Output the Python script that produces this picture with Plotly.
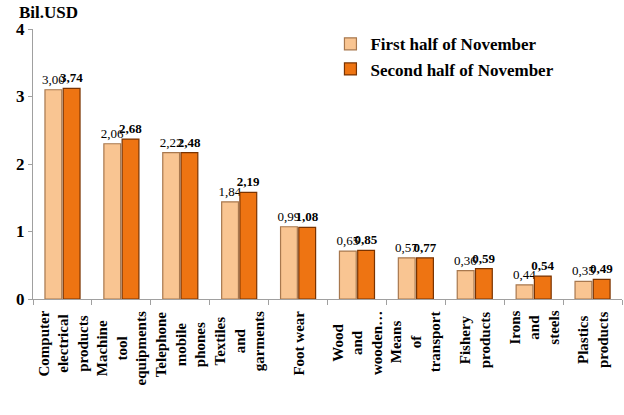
import plotly.graph_objects as go

categories = [
    "Computer<br>electrical<br>products",
    "Machine<br>tool<br>equipments",
    "Telephone<br>mobile<br>phones",
    "Textiles<br>and<br>garments",
    "Foot wear",
    "Wood<br>and<br>wooden…",
    "Means<br>of<br>transport",
    "Fishery<br>products",
    "Irons<br>and<br>steels",
    "Plastics<br>products",
]
# bar heights as drawn in the picture
first_half = [3.10, 2.30, 2.17, 1.44, 1.07, 0.71, 0.61, 0.42, 0.21, 0.26]
second_half = [3.12, 2.37, 2.17, 1.58, 1.06, 0.72, 0.61, 0.45, 0.34, 0.29]
# data labels as printed
first_labels = ["3,00", "2,06", "2,22", "1,84", "0,99", "0,65", "0,57", "0,36", "0,44", "0,35"]
second_labels = ["3,74", "2,68", "2,48", "2,19", "1,08", "0,85", "0,77", "0,59", "0,54", "0,49"]
y_ticks = [0, 1, 2, 3, 4]

FONT = "Liberation Serif"

fig = go.Figure()
fig.add_trace(go.Bar(
    x=categories, y=first_half, name="<b>First half of November</b>",
    text=first_labels, textposition="outside",
    textfont=dict(family=FONT, size=13, color="black"),
    outsidetextfont=dict(family=FONT, size=13, color="black"),
    marker=dict(color="#F9C592", line=dict(color="#A8784E", width=1.2)),
    cliponaxis=False, constraintext="none",
))
fig.add_trace(go.Bar(
    x=categories, y=second_half, name="<b>Second half of November</b>",
    text=["<b>" + s + "</b>" for s in second_labels], textposition="outside",
    textfont=dict(family=FONT, size=13, color="black"),
    outsidetextfont=dict(family=FONT, size=13, color="black"),
    marker=dict(color="#EE7412", line=dict(color="#7A3300", width=1.2)),
    cliponaxis=False, constraintext="none",
))

annotations = [dict(
    text="<b>Bil.USD</b>", xref="paper", yref="paper",
    x=-0.027, y=1.0, xanchor="left", yanchor="bottom", yshift=5,
    showarrow=False, font=dict(family=FONT, size=17, color="black"),
)]
for c in categories:
    annotations.append(dict(
        text="<b>" + c + "</b>", x=c, y=0, xref="x", yref="y",
        xanchor="center", yanchor="top", yshift=-10,
        textangle=-90, align="center", showarrow=False,
        font=dict(family=FONT, size=15, color="black"),
    ))

fig.update_layout(
    width=624, height=415,
    margin=dict(l=33, r=2, t=29, b=116),
    paper_bgcolor="white", plot_bgcolor="white",
    barmode="group", bargap=0.38, bargroupgap=0.08,
    font=dict(family=FONT, color="black"),
    showlegend=True,
    legend=dict(x=0.505, y=1.01, xanchor="left", yanchor="top",
                font=dict(family=FONT, size=17, color="black"),
                bgcolor="rgba(0,0,0,0)", itemwidth=30, tracegroupgap=0),
    xaxis=dict(
        showticklabels=False,
        showline=True, linecolor="#A0A0A0", linewidth=1,
        ticks="outside", ticklen=5, tickcolor="#A0A0A0", tickson="boundaries",
        showgrid=False,
    ),
    yaxis=dict(
        range=[0, 4], tickvals=y_ticks,
        ticktext=["<b>%d</b>" % v for v in y_ticks],
        tickfont=dict(family=FONT, size=17, color="black"),
        showline=True, linecolor="#A0A0A0", linewidth=1,
        ticks="outside", ticklen=4, tickcolor="#A0A0A0",
        showgrid=False, zeroline=False,
    ),
    annotations=annotations,
)

fig.write_html("out.html")
